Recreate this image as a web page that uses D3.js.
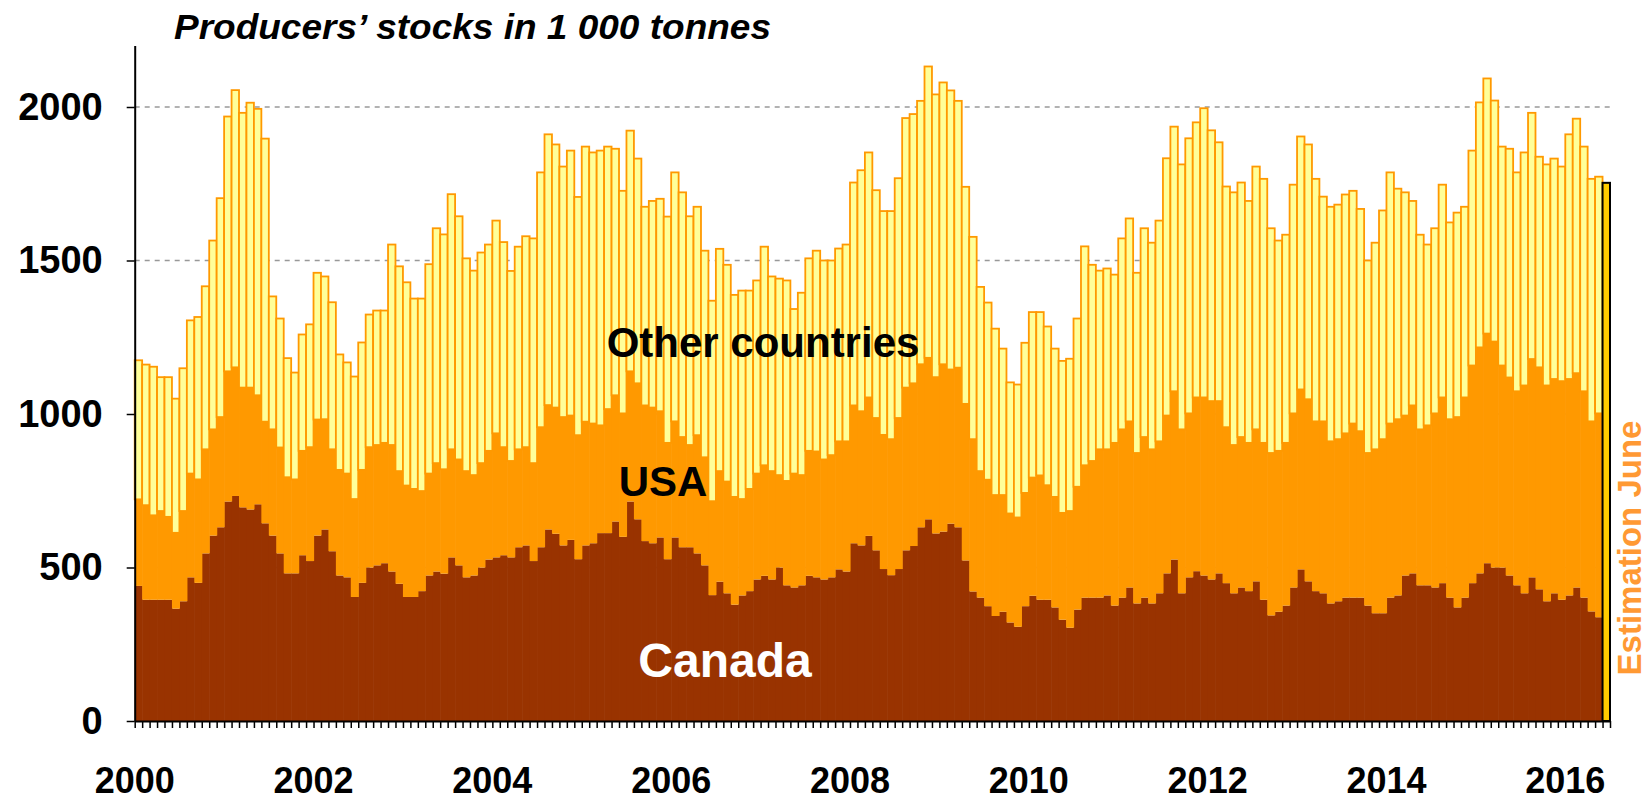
<!DOCTYPE html>
<html>
<head><meta charset="utf-8">
<style>
  body { margin: 0; background: #fff; }
  svg text { font-family: "Liberation Sans", Arial, sans-serif; font-weight: bold; }
</style>
</head>
<body>
<script src="https://d3js.org/d3.v7.min.js"></script>
<script>
// monthly producers' stocks, Jan 2000 - May 2016 (1 000 tonnes)
var canada = [
  440,395,395,395,395,366,390,468,450,546, 604,631,715,733,696,689,706,644,604,546,
  481,481,540,521,604,624,553,474,468,404, 450,500,507,514,487,447,404,404,423,474,
  487,480,533,507,468,474,500,526,533,540, 533,566,572,521,566,624,610,572,590,527,
  572,579,612,612,650,600,715,657,586,579, 598,527,598,566,566,546,507,410,454,416,
  379,409,423,461,473,461,500,442,435,442, 473,468,461,468,494,487,579,572,603,556,
  495,475,495,556,570,631,657,611,617,643, 631,523,422,402,374,342,356,321,307,374,
  408,395,395,370,330,304,363,402,402,402, 409,376,402,435,383,402,383,416,481,526,
  416,468,488,474,461,481,449,416,435,423, 455,395,344,356,376,435,494,455,423,416,
  383,390,402,402,402,376,351,351,402,409, 474,481,442,442,435,449,402,370,402,449,
  481,514,500,500,474,442,416,468,429,390, 416,395,409,435,402,357,338
];
var usa = [
  282,308,275,289,270,247,294,338,337,339, 346,359,424,419,390,397,355,331,346,345,
  313,306,340,371,378,359,332,344,338,319, 368,392,392,392,412,367,363,352,326,332,
  353,340,352,345,346,327,340,354,404,352, 314,319,320,319,391,405,411,418,405,404,
  403,390,351,404,411,402,424,443,442,442, 411,379,378,359,333,385,352,306,360,364,
  351,314,333,345,360,353,301,340,371,359, 407,410,391,398,417,424,449,437,451,431,
  437,443,492,530,530,531,526,509,545,502, 520,510,496,412,412,394,380,355,356,369,
  385,405,373,360,348,380,400,431,445,483, 476,530,548,541,490,523,502,495,514,548,
  534,534,566,580,581,561,508,483,490,483, 495,511,529,524,530,567,586,593,553,560,
  528,528,535,567,542,497,534,567,567,574, 521,547,508,521,567,605,581,620,652,709,
  736,748,736,658,645,632,677,711,723,703, 698,712,705,698,672,619,664
];
var other = [
  453,458,484,436,455,437,465,499,529,531, 615,713,830,903,895,928,933,922,433,420,
  388,348,379,400,478,465,479,376,362,399, 415,432,438,431,653,667,662,620,627,682,
  765,765,831,792,693,666,686,672,693,668, 619,660,687,732,830,882,857,816,863,776,
  896,883,895,855,803,725,784,732,647,673, 692,737,811,797,745,744,673,653,724,706,
  658,679,646,629,712,634,640,653,536,594, 627,654,648,634,628,641,726,785,798,742,
  729,743,781,878,877,858,949,921,918,909, 869,707,659,600,577,542,477,427,433,489,
  539,532,517,483,495,496,548,713,639,582, 589,548,622,661,587,680,673,719,838,862,
  863,896,896,942,882,843,784,823,829,788, 856,860,732,685,678,745,824,830,790,732,
  764,764,778,758,724,627,673,745,818,751, 727,666,634,589,603,693,641,666,621,700,
  798,831,785,713,745,713,759,802,686,720, 718,699,797,829,797,790,771
];
var estimateJune = 1753;
var yearLabels = [2000, 2002, 2004, 2006, 2008, 2010, 2012, 2014, 2016];
var yTicks = [0, 500, 1000, 1500, 2000];
var gridValues = [500, 1000, 1500, 2000];

var width = 1650, height = 801;
var x0 = 134.7, x1 = 1610;
var nMonths = canada.length + 1;   // + June estimate

var svg = d3.select("body").append("svg")
    .attr("width", width)
    .attr("height", height);

var x = d3.scaleBand()
    .domain(d3.range(nMonths))
    .range([x0, x1])
    .padding(0);

var xm = d3.scaleLinear().domain([0, nMonths]).range([x0, x1]);

var y = d3.scaleLinear()
    .domain([0, 2200])
    .range([721, 45.6]);

// grid
svg.append("g").selectAll("line")
    .data(gridValues)
  .enter().append("line")
    .attr("x1", x0).attr("x2", x1)
    .attr("y1", d => y(d)).attr("y2", d => y(d))
    .attr("stroke", "#999")
    .attr("stroke-width", 1.5)
    .attr("stroke-dasharray", "5,5");

var rows = canada.map(function(c, i) {
  return {i: i, canada: c, usa: usa[i], other: other[i]};
});
var stack = d3.stack().keys(["canada", "usa", "other"])(rows);
var fills = {canada: "#993300", usa: "#FF9900", other: "#FFFF99"};

stack.forEach(function(layer) {
  var g = svg.append("g");
  var r = g.selectAll("rect")
      .data(layer)
    .enter().append("rect")
      .attr("x", d => x(d.data.i))
      .attr("y", d => y(d[1]))
      .attr("height", d => y(d[0]) - y(d[1]))
      .attr("fill", fills[layer.key]);
  if (layer.key == "other") {
    r.attr("width", x.bandwidth())
     .attr("stroke", "#FF9900")
     .attr("stroke-width", 1.8);
  } else {
    r.attr("width", x.bandwidth() + 0.6);
  }
});

// June estimate
svg.append("rect")
    .attr("x", x(nMonths - 1))
    .attr("y", y(estimateJune))
    .attr("width", x.bandwidth())
    .attr("height", y(0) - y(estimateJune))
    .attr("fill", "#FFCC00")
    .attr("stroke", "#000")
    .attr("stroke-width", 2);

// axes
var yAxis = svg.append("g")
    .attr("transform", "translate(" + x0 + ",0)")
    .call(d3.axisLeft(y).tickValues(yTicks).tickSize(8).tickPadding(24)
      .tickFormat(d3.format("d")).tickSizeOuter(0));
yAxis.select(".domain").attr("stroke-width", 2);
yAxis.selectAll(".tick line").attr("stroke-width", 1.5);
yAxis.selectAll("text")
    .style("font-size", "38px")
    .attr("fill", "#000");

var xAxis = svg.append("g")
    .attr("transform", "translate(0," + y(0) + ")")
    .call(d3.axisBottom(xm).tickValues(d3.range(0, nMonths + 1)).tickSize(7).tickFormat("").tickSizeOuter(0));
xAxis.select(".domain").attr("stroke-width", 2);
xAxis.selectAll(".tick line").attr("stroke-width", 1.5);

svg.append("g").selectAll("text")
    .data(yearLabels)
  .enter().append("text")
    .attr("x", d => xm((d - 2000) * 12))
    .attr("y", 793)
    .attr("text-anchor", "middle")
    .style("font-size", "36px")
    .text(d => d);

// title and labels
svg.append("text")
    .attr("x", 174).attr("y", 39)
    .style("font-size", "35px")
    .style("font-style", "italic")
    .attr("textLength", 597)
    .attr("lengthAdjust", "spacingAndGlyphs")
    .text("Producers\u2019 stocks in 1 000 tonnes");

svg.append("text")
    .attr("x", 763).attr("y", 357)
    .attr("text-anchor", "middle")
    .style("font-size", "42px")
    .text("Other countries");

svg.append("text")
    .attr("x", 663).attr("y", 496)
    .attr("text-anchor", "middle")
    .style("font-size", "42px")
    .text("USA");

svg.append("text")
    .attr("x", 725).attr("y", 677)
    .attr("text-anchor", "middle")
    .attr("fill", "#fff")
    .style("font-size", "48px")
    .text("Canada");

svg.append("text")
    .attr("transform", "translate(1629,548) rotate(-90)")
    .attr("text-anchor", "middle")
    .attr("dominant-baseline", "central")
    .attr("fill", "#FF9933")
    .style("font-size", "33px")
    .text("Estimation June");
</script>
</body>
</html>
